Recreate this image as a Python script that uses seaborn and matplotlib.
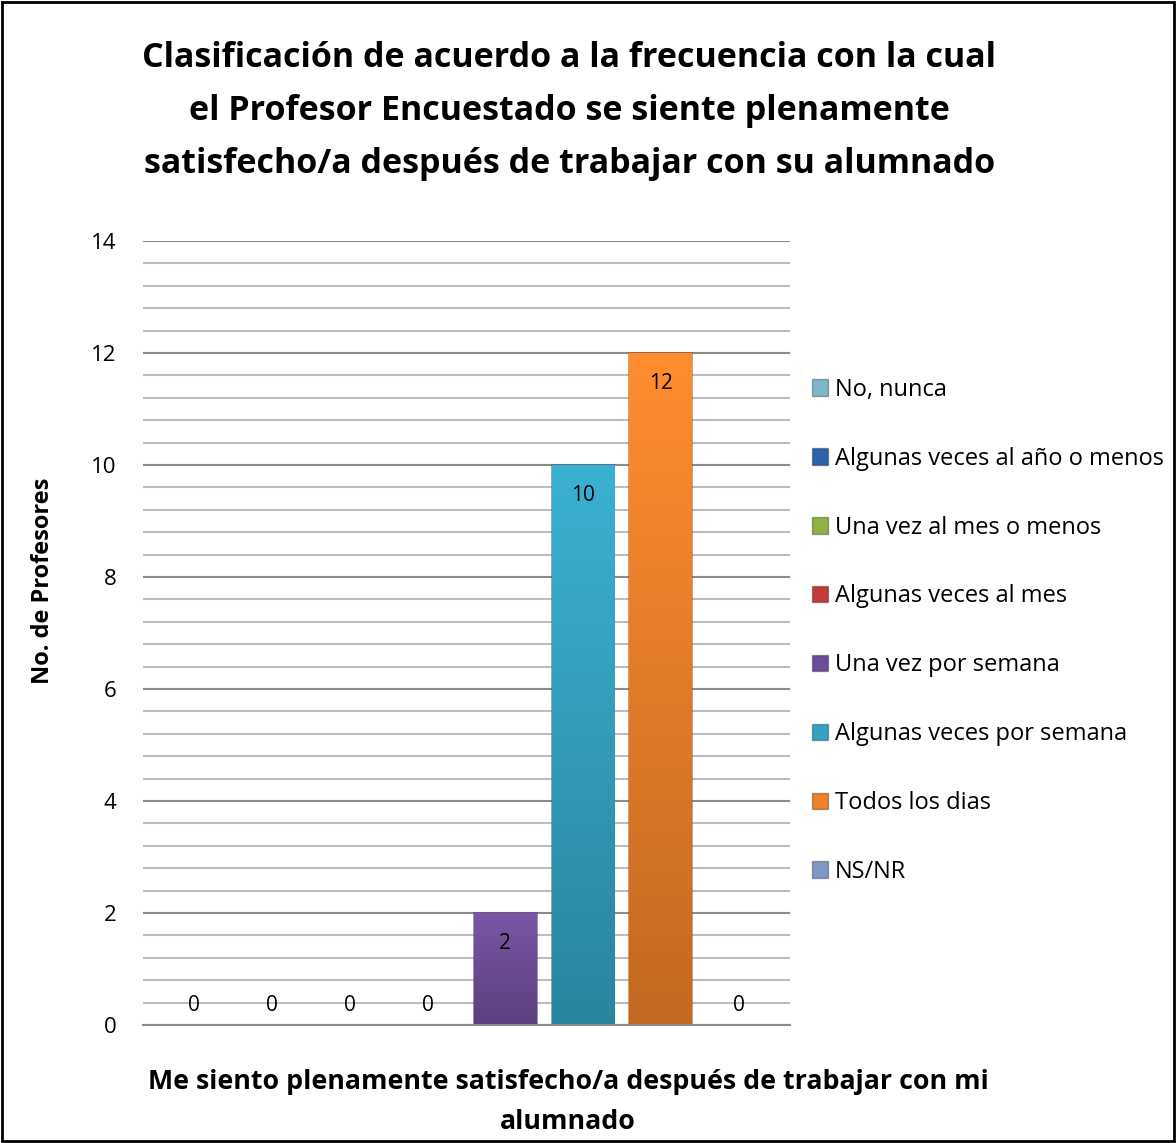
import numpy as np
import pandas as pd
import seaborn as sns
import matplotlib.pyplot as plt
import matplotlib.patches as mpatches
import matplotlib.colors as mcolors
from matplotlib.ticker import MultipleLocator

# Chart data
categorias = [
    'No, nunca',
    'Algunas veces al año o menos',
    'Una vez al mes o menos',
    'Algunas veces al mes',
    'Una vez por semana',
    'Algunas veces por semana',
    'Todos los dias',
    'NS/NR',
]
profesores = [0, 0, 0, 0, 2, 10, 12, 0]
colores = ['#7FB6C9', '#2F62A8', '#8DB340', '#C23B3D',
           '#6E4D98', '#33A2C1', '#EE8028', '#7E97C6']
y_ticks = [0, 2, 4, 6, 8, 10, 12, 14]

titulo = ('Clasificación de acuerdo a la frecuencia con la cual\n'
          'el Profesor Encuestado se siente plenamente\n'
          'satisfecho/a después de trabajar con su alumnado')
x_titulo = ('Me siento plenamente satisfecho/a después de trabajar con mi\n'
            'alumnado')
y_titulo = 'No. de Profesores'

df = pd.DataFrame({'categoria': categorias, 'profesores': profesores})

sns.set_style('white')
plt.rcParams['font.family'] = ['Open Sans', 'DejaVu Sans']
plt.rcParams['text.color'] = 'black'
plt.rcParams['axes.labelcolor'] = 'black'
plt.rcParams['ytick.color'] = 'black'

fig = plt.figure(figsize=(11.76, 11.43), dpi=100)
ax = fig.add_axes([0.1216, 0.1032, 0.55, 0.6859])

sns.barplot(
    data=df, x='categoria', y='profesores', hue='categoria',
    palette=colores, width=0.81, legend=False, ax=ax, saturation=1
)

# vertical shading on each bar, lighter at the top
for patch in ax.patches:
    if patch.get_height() <= 0:
        continue
    base = np.array(mcolors.to_rgb(patch.get_facecolor()))
    light = np.clip(base * 1.06 + 0.02, 0, 1)
    dark = base * 0.82
    t = np.linspace(0, 1, 256)[:, None]
    grad = light * (1 - t[..., None]) + dark * t[..., None]
    x0, y0 = patch.get_x(), patch.get_y()
    w, h = patch.get_width(), patch.get_height()
    im = ax.imshow(grad, extent=[x0, x0 + w, y0, y0 + h], aspect='auto',
                   origin='upper', zorder=patch.get_zorder() + 0.1)
    im.set_clip_path(patch)
    patch.set_edgecolor(tuple(base * 0.6) + (0.6,))
    patch.set_linewidth(1.2)

ax.set_ylim(0, 14)
ax.set_xlim(-0.66, len(categorias) - 1 + 0.66)
ax.set_yticks(y_ticks)
ax.yaxis.set_minor_locator(MultipleLocator(0.4))
ax.grid(which='major', axis='y', color='#8a8a8a', linewidth=1.5)
ax.grid(which='minor', axis='y', color='#bdbdbd', linewidth=1.5)
ax.set_axisbelow(True)
ax.tick_params(axis='y', which='both', length=0, labelsize=16, pad=19)
ax.tick_params(axis='x', length=0, labelbottom=False)
for side in ['left', 'right', 'top']:
    ax.spines[side].set_visible(False)
ax.spines['bottom'].set_color('#8a8a8a')
ax.spines['bottom'].set_linewidth(1.5)

ax.set_xlabel('')
ax.set_ylabel(y_titulo, fontsize=17, fontweight='bold')
ax.yaxis.set_label_coords(-0.136, 0.566)

# Value labels
for i, v in enumerate(profesores):
    off = -22 if v > 0 else 14
    ax.annotate(str(v), (i, v), xytext=(0, off), textcoords='offset points',
                ha='center', va='center', fontsize=15, zorder=5)

# Legend
handles = [mpatches.Patch(facecolor=c, edgecolor='#00000050') for c in colores]
fig.legend(handles, categorias, loc='upper left', bbox_to_anchor=(0.672, 0.688),
           frameon=False, fontsize=17, handlelength=0.7, handleheight=0.7,
           handletextpad=0.3, labelspacing=1.9)

fig.text(0.484, 0.964, titulo, ha='center', va='top', fontsize=24.5,
         fontweight='bold', linespacing=1.73)
fig.text(0.483, 0.0355, x_titulo, ha='center', va='center', fontsize=19.3,
         fontweight='bold', linespacing=1.7)

# Figure border
fig.patches.append(mpatches.Rectangle((0.002, 0.002), 0.996, 0.996,
                                      transform=fig.transFigure, fill=False,
                                      edgecolor='black', linewidth=2))

fig.savefig('out.png', dpi=100)
